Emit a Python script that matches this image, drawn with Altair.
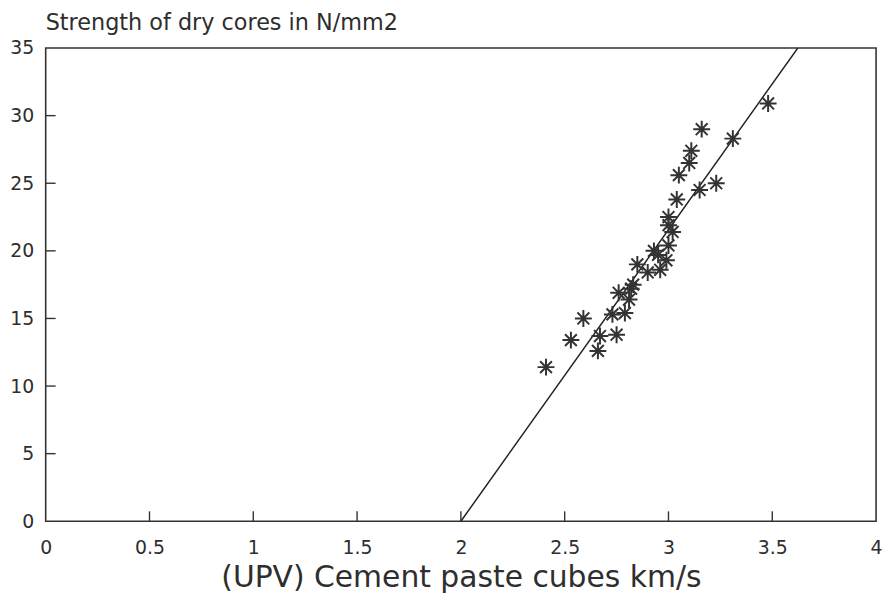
import altair as alt
import pandas as pd

# Measured points: UPV of cement paste cubes (km/s) vs strength of dry cores (N/mm2)
upv = [2.41, 2.53, 2.59, 2.66, 2.67, 2.75, 2.73, 2.79, 2.76, 2.81, 2.82, 2.83,
       2.85, 2.90, 2.96, 2.99, 2.93, 2.95, 3.00, 3.02, 3.00, 3.00, 3.04, 3.15,
       3.23, 3.05, 3.10, 3.11, 3.16, 3.31, 3.48]
strength = [11.4, 13.4, 15.0, 12.6, 13.7, 13.8, 15.3, 15.4, 16.9, 16.4, 17.2, 17.5,
            19.0, 18.4, 18.6, 19.3, 20.0, 19.7, 20.4, 21.4, 21.9, 22.5, 23.8, 24.5,
            25.0, 25.6, 26.5, 27.4, 29.0, 28.3, 30.9]

# Regression line end points
fit_x = [2.0, 3.623]
fit_y = [0.0, 35.0]

x_ticks = [0, 0.5, 1, 1.5, 2, 2.5, 3, 3.5, 4]
y_ticks = [0, 5, 10, 15, 20, 25, 30, 35]
x_inner_ticks = [0.5, 1, 1.5, 2, 2.5, 3, 3.5]
y_inner_ticks = [5, 10, 15, 20, 25, 30]

W, H = 837, 477
FONT = "DejaVu Sans"
INK = "#2e2e2e"

pts = pd.DataFrame({"upv": upv, "strength": strength})
fit = pd.DataFrame({"upv": fit_x, "strength": fit_y})
xt = pd.DataFrame({"v": x_inner_ticks})
yt = pd.DataFrame({"v": y_inner_ticks})

xscale = alt.Scale(domain=[0, 4], nice=False)
yscale = alt.Scale(domain=[0, 35], nice=False)

xaxis = alt.Axis(values=x_ticks, title="(UPV) Cement paste cubes km/s", format="~g",
                 domain=False, ticks=False, grid=False, labelFont=FONT,
                 labelFontSize=19, labelColor=INK, labelPadding=17,
                 titleFont=FONT, titleFontSize=30, titleFontWeight="normal",
                 titleColor=INK, titlePadding=6, labelFlush=False)
yaxis = alt.Axis(values=y_ticks, title=None, domain=False, ticks=False, format="~g",
                 grid=False, labelFont=FONT, labelFontSize=19, labelColor=INK,
                 labelPadding=12, labelFlush=False)

star = "M-1,0L1,0M0,-1L0,1M-0.7,-0.7L0.7,0.7M-0.7,0.7L0.7,-0.7"

points = alt.Chart(pts).mark_point(shape=star, filled=False, stroke="#333333",
                                   strokeWidth=2, size=290, opacity=1).encode(
    x=alt.X("upv:Q", scale=xscale, axis=xaxis),
    y=alt.Y("strength:Q", scale=yscale, axis=yaxis),
)

line = alt.Chart(fit).mark_line(color="#222222", strokeWidth=1.5, clip=True).encode(
    x=alt.X("upv:Q", scale=xscale),
    y=alt.Y("strength:Q", scale=yscale),
)

xticks = alt.Chart(xt).mark_rule(color="#333333", strokeWidth=1.4).encode(
    x=alt.X("v:Q", scale=xscale),
    y=alt.value(H),
    y2=alt.value(H - 10),
)

yticks = alt.Chart(yt).mark_rule(color="#333333", strokeWidth=1.4).encode(
    y=alt.Y("v:Q", scale=yscale),
    x=alt.value(0),
    x2=alt.value(10),
)

chart = alt.layer(xticks, yticks, line, points).properties(
    width=W, height=H,
    title=alt.TitleParams("Strength of dry cores in N/mm2", anchor="start",
                          frame="group", font=FONT, fontSize=22.5,
                          fontWeight="normal", color=INK, offset=5),
    autosize=alt.AutoSizeParams(type="none"),
    padding={"left": 38, "top": 38, "right": 9, "bottom": 77},
).configure(background="white").configure_view(stroke="#333333", strokeWidth=1.6)

chart.save("out.html", embed_options={"renderer": "svg", "actions": False})
